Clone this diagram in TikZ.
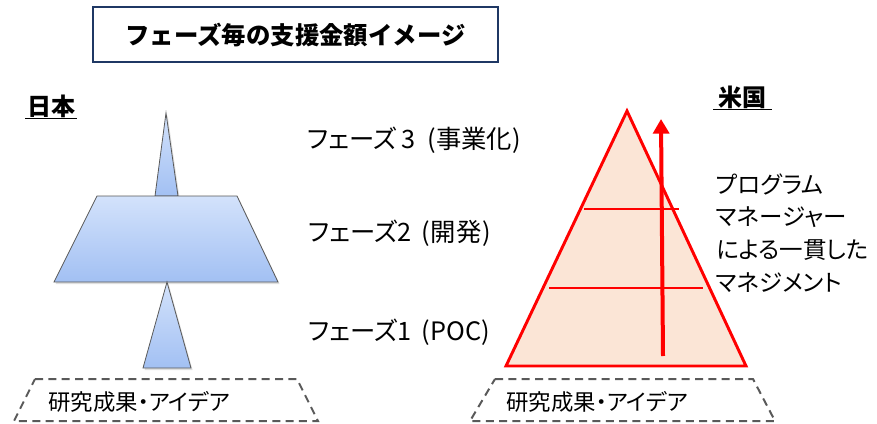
\documentclass[tikz,border=0pt]{standalone}
\usepackage{fontspec}
\setmainfont{Noto Sans CJK JP}
\newfontfamily\jpp{Noto Sans CJK JP}[CharacterWidth=AlternateProportional]
\usetikzlibrary{arrows.meta,shadows}
\definecolor{navy}{HTML}{1F3864}
\definecolor{peach}{HTML}{FBE5D6}
\definecolor{dashgray}{HTML}{595959}
\definecolor{blueA}{HTML}{D3E2FB}
\definecolor{blueB}{HTML}{A2C0F3}
\begin{document}
\begin{tikzpicture}[x=0.75pt,y=-0.75pt,
  bluebox/.style={draw=black!65,line width=0.6pt,top color=blueA,bottom color=blueB,
     drop shadow={shadow xshift=1.2pt,shadow yshift=-1.5pt,opacity=0.25}},
  basebox/.style={draw=dashgray,line width=1.5pt,dash pattern=on 6pt off 4pt},
  redline/.style={draw=red,line width=2pt},
  phaselbl/.style={anchor=west,font=\jpp\fontsize{19}{22}\selectfont,inner sep=0pt},
  baselbl/.style={anchor=west,font=\jpp\fontsize{16.8}{18}\selectfont,inner sep=0pt},
  country/.style={font=\bfseries\fontsize{18}{20}\selectfont,inner sep=0pt}]
\useasboundingbox (0,0) rectangle (877,424);
% title
\draw[navy,line width=1.5pt,fill=white] (93,7) rectangle (498,62);
\node[font=\bfseries\fontsize{18.3}{20}\selectfont,inner sep=0pt] (title) at (295.5,35) {フェーズ毎の支援金額イメージ};
% countries
\node[country] (jp) at (51,106) {日本};
\draw[black,line width=1.2pt] (25,118.5) -- (77,118.5);
\node[country] (us) at (742.5,97) {米国};
\draw[black,line width=1.2pt] (713,109.5) -- (772,109.5);
% Japan shapes
\draw[bluebox] (155,196) -- (166,113) -- (178,196) -- cycle;
\draw[bluebox] (97,196) -- (237,196) -- (278,282) -- (54,282) -- cycle;
\draw[bluebox] (143,368) -- (167,282) -- (191,368) -- cycle;
% phase labels
\node[phaselbl] (p3) at (307,140) {フェーズ\hspace{4pt}3\hspace{9pt}(事業化)};
\node[phaselbl] (p2) at (308,233) {フェーズ2\hspace{3pt} (\hspace{1pt}開発\hspace{1pt})};
\node[phaselbl] (p1) at (308,332) {フェーズ1\hspace{3pt} (\hspace{0.5pt}POC\hspace{0.5pt})};
% US pyramid
\draw[red,line width=2.2pt,fill=peach,line join=miter] (506,366) -- (627,111) -- (746,366) -- cycle;
\draw[redline] (584,209) -- (679,209);
\draw[redline] (549,288) -- (703,288);
\coordinate (arrS) at (663,356);
\coordinate (arrE) at (661,119);
\draw[red,line width=3pt,-{Triangle[length=11pt,width=12pt]}] (arrS) -- (arrE);
\node[anchor=west,align=left,inner sep=0pt,font=\jpp\fontsize{17.6}{24.5}\selectfont] (pm) at (716,233)
  {プログラム\\マネージャー\\による一貫した\\マネジメント};
% base trapezoids
\draw[basebox] (35,379) -- (297,379) -- (318,421) -- (14,421) -- cycle;
\node[baselbl] (b1) at (48,402) {研究成果・アイデア};
\draw[basebox] (495,379) -- (753,379) -- (775,421) -- (470,421) -- cycle;
\node[baselbl] (b2) at (506,402) {研究成果・アイデア};
\end{tikzpicture}
\end{document}
